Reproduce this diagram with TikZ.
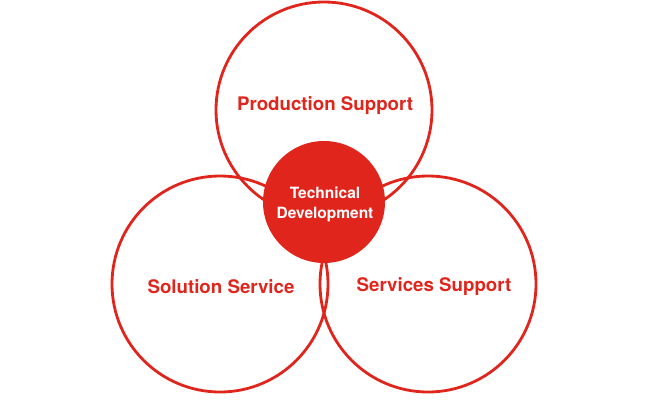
\documentclass[tikz,border=0pt]{standalone}
\usepackage{fontspec}
\setmainfont{TeX Gyre Heros}
\definecolor{tred}{RGB}{224,37,28}
\begin{document}
\begin{tikzpicture}[x=1pt,y=-1pt,
  ring/.style={circle,draw=tred,line width=2.8pt,minimum size=216pt,inner sep=0pt},
  core/.style={circle,fill=tred,minimum size=122pt,inner sep=0pt,text=white,font=\bfseries\fontsize{15.5}{20}\selectfont,align=center},
  lbl/.style={text=tred,font=\bfseries\fontsize{18.7}{20}\selectfont,inner sep=0pt}]
\useasboundingbox (0,0) rectangle (650,400);
\node[ring] (top) at (324,110) {};
\node[ring] (left) at (220,284) {};
\node[ring] (right) at (428,284) {};
\node[core] (tech) at (324,202) {};
\node[text=white,font=\bfseries\fontsize{15.5}{20}\selectfont,align=center,inner sep=0pt] (techtext) at (325,204) {Technical\\Development};
\node[lbl] (ptext) at (325,106) {Production Support};
\node[lbl] (stext) at (221,287) {Solution Service};
\node[lbl] (vtext) at (434,287) {Services Support};
\end{tikzpicture}
\end{document}
